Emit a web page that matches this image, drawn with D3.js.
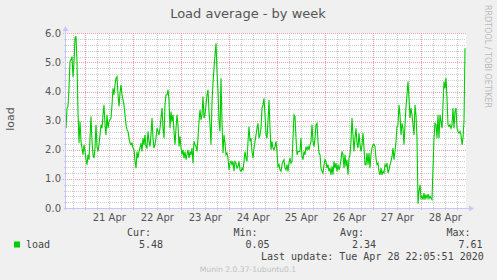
<!DOCTYPE html>
<html>
<head>
<meta charset="utf-8">
<script src="https://cdn.jsdelivr.net/npm/d3@7"></script>
<style>
  body { margin: 0; background: #F0F0F0; }
  svg { display: block; }
</style>
</head>
<body>
<div id="chartDiv"></div>
<script>
// load average, one value per 30 minutes, oldest first
var loadValues = [
  2.74, 3.43, 3.49, 4.11, 5.03, 5.09, 5.2, 4.5, 5.0, 5.83,
  5.9, 5.0, 3.3, 2.23, 2.97, 2.29, 2.06, 1.83, 2.17, 1.94,
  1.66, 1.49, 1.83, 1.66, 2.4, 3.14, 2.29, 1.83, 1.71, 2.06,
  2.86, 2.11, 1.94, 2.17, 2.51, 2.86, 2.74, 3.2, 3.54, 2.86,
  2.51, 3.2, 2.74, 2.97, 3.03, 3.09, 3.54, 4.11, 3.89, 4.23,
  4.46, 4.51, 3.89, 3.49, 3.94, 4.23, 3.89, 3.71, 3.54, 3.2,
  2.86, 2.69, 2.63, 2.4, 2.23, 2.17, 2.23, 2.06, 2.0, 1.6,
  1.37, 1.94, 1.71, 1.94, 2.06, 2.23, 1.94, 2.4, 2.17, 2.51,
  2.11, 2.06, 2.63, 2.29, 2.11, 2.51, 3.09, 2.4, 2.06, 2.17,
  2.4, 2.74, 2.63, 2.51, 2.74, 3.09, 3.43, 2.74, 2.4, 3.54,
  3.89,
  3.89, 4.06, 3.71, 2.74, 3.31, 2.97, 3.2, 2.63, 2.17, 2.74,
  3.2, 2.86, 2.11, 2.46, 2.06, 1.83, 2.0, 1.71, 1.94, 1.66,
  1.83, 2.0, 1.71, 1.94, 1.83, 2.06, 1.54, 2.29, 2.17, 2.11,
  1.94, 2.4, 2.97, 3.37, 3.03, 3.2, 3.83, 3.09, 3.2,
  3.54, 3.89, 4.06, 3.31, 2.86, 2.17, 3.66, 4.29, 4.8, 5.26,
  5.66, 4.69, 4.0, 2.97, 2.63, 4.46, 2.97, 1.89, 2.51, 2.23,
  1.83, 1.89, 1.71, 1.31, 1.54, 1.6, 1.49, 1.6, 1.26, 1.6,
  1.54, 1.37, 1.43, 1.6, 1.31, 1.26, 1.37, 1.31, 1.6, 1.94,
  1.71, 1.6, 2.29, 2.8, 2.29, 2.4, 1.94, 1.71, 2.06, 2.29,
  2.51, 2.74, 2.91, 2.4, 2.51, 2.74, 3.43, 3.54, 3.77, 3.2, 2.51,
  2.4, 2.97, 3.71, 2.74, 2.0, 2.29, 2.06, 2.0, 2.11, 2.29,
  1.94, 1.43, 1.49, 1.31, 1.26, 1.49, 1.6, 1.66, 1.37, 1.31,
  1.49, 1.26, 1.54, 1.71, 1.54, 1.6, 2.4, 3.2, 3.14, 2.4,
  1.83, 1.94, 1.94, 1.94, 2.4, 1.77, 1.66, 1.94, 1.83, 2.11,
  2.0, 2.11, 2.0, 2.17, 2.29, 2.86, 2.29, 2.11, 2.4, 2.86,
  2.91, 2.29, 1.89, 1.83, 1.37, 1.26, 1.2, 1.49, 1.66, 1.6,
  1.37, 1.49, 1.26, 1.37, 1.14, 1.43, 1.14, 1.6, 1.37, 1.54,
  1.26, 1.49, 1.31, 1.43, 1.66, 1.94, 1.83, 1.37, 1.83, 1.43,
  1.66, 1.14, 1.71, 1.83, 2.29, 3.09, 2.51, 1.94, 2.4, 2.74,
  2.23, 2.06, 2.57, 2.17, 1.94, 2.17, 2.57, 2.06, 1.49, 1.49,
  1.89, 1.49, 1.89, 1.37, 1.83, 2.06, 2.17, 2.19, 2.11, 1.71,
  1.49, 1.54, 1.26, 1.14, 1.37, 1.14, 1.26, 1.2, 1.49, 1.43,
  1.54, 1.2, 1.31, 1.49, 1.6, 1.77, 2.06, 1.66, 1.94, 2.29,
  2.8, 2.86, 3.54, 3.2, 2.51, 2.91, 2.74, 2.17, 2.86, 3.49,
  3.89, 4.34, 3.77, 3.09, 3.43, 3.2, 2.86, 2.51, 3.54, 3.2,
  2.4, 0.15, 0.57, 0.8, 0.34, 0.4, 0.29, 0.51, 0.29, 0.46,
  0.34, 0.48, 0.32, 0.4, 0.34, 0.29, 1.37, 2.4, 2.91, 2.86,
  2.4, 3.2, 2.4, 3.2, 2.97, 2.74, 3.54, 4.34, 4.11, 4.46,
  3.77, 2.86, 2.8, 2.86, 2.74, 2.86, 3.43, 2.74, 3.31, 3.43,
  2.74, 2.63, 2.57, 2.63, 2.51, 2.17, 2.4, 2.97, 5.49
];

var yTicks = [0, 1, 2, 3, 4, 5, 6];
var dayLabels = ["21 Apr", "22 Apr", "23 Apr", "24 Apr", "25 Apr", "26 Apr", "27 Apr", "28 Apr"];
var dayDates = [21, 22, 23, 24, 25, 26, 27, 28];

var legendHeads = ["Cur:", "Min:", "Avg:", "Max:"];
var legendValues = ["5.48", "0.05", "2.34", "7.61"];

var startTime = Date.UTC(2020, 3, 20, 14, 20);
var endTime = Date.UTC(2020, 3, 28, 22, 20);
var step = 30 * 60 * 1000;

var W = 497, H = 280;
var plotL = 66, plotR = 466, plotT = 33.3, plotB = 208;

var svg = d3.select("#chartDiv")
  .append("svg")
    .attr("width", W)
    .attr("height", H);

svg.append("rect")
  .attr("width", W).attr("height", H)
  .attr("fill", "#F0F0F0");

var x = d3.scaleUtc()
  .domain([startTime, endTime])
  .range([plotL, plotR]);

var y = d3.scaleLinear()
  .domain([0, 6])
  .range([plotB, plotT]);

// plot canvas
svg.append("rect")
  .attr("x", plotL).attr("y", 33)
  .attr("width", plotR - plotL).attr("height", plotB - 33)
  .attr("fill", "#FFFFFF");

function px(v) { return Math.round(v) + 0.5; }

// minor grid: every 6 hours and every 0.2
var minorTimes = d3.utcHour.every(6).range(new Date(startTime), new Date(endTime))
  .filter(function(d) { return d.getUTCHours() != 0; });
var majorTimes = d3.utcDay.range(new Date(startTime), new Date(endTime));
var minorY = d3.range(1, 30).map(function(i) { return i / 5; })
  .filter(function(v) { return Math.abs(v - Math.round(v)) > 0.01; });

var grid = svg.append("g");

grid.selectAll(".vminor")
  .data(minorTimes)
  .enter().append("line")
    .attr("x1", function(d) { return px(x(d)); })
    .attr("x2", function(d) { return px(x(d)); })
    .attr("y1", 33).attr("y2", plotB + 2)
    .attr("stroke", "#CCCCCC")
    .attr("stroke-dasharray", "1,1");

grid.selectAll(".hminor")
  .data(minorY)
  .enter().append("line")
    .attr("x1", plotL - 2).attr("x2", plotR)
    .attr("y1", function(d) { return px(y(d)); })
    .attr("y2", function(d) { return px(y(d)); })
    .attr("stroke", "#CCCCCC")
    .attr("stroke-dasharray", "1,1");

grid.selectAll(".vmajor")
  .data(majorTimes)
  .enter().append("line")
    .attr("x1", function(d) { return px(x(d)); })
    .attr("x2", function(d) { return px(x(d)); })
    .attr("y1", 33).attr("y2", plotB + 3)
    .attr("stroke", "#EDA0A0")
    .attr("stroke-dasharray", "1,1");

grid.selectAll(".hmajor")
  .data(yTicks.slice(1))
  .enter().append("line")
    .attr("x1", plotL - 3).attr("x2", plotR)
    .attr("y1", function(d) { return px(y(d)); })
    .attr("y2", function(d) { return px(y(d)); })
    .attr("stroke", "#EDA0A0")
    .attr("stroke-dasharray", "1,1");

// y tick labels
svg.selectAll(".ylab")
  .data(yTicks)
  .enter().append("text")
    .attr("x", 61)
    .attr("y", function(d) { return y(d) + 3.5; })
    .attr("text-anchor", "end")
    .style("font-family", "DejaVu Sans")
    .style("font-size", "10px")
    .style("fill", "#555")
    .text(function(d) { return d.toFixed(1); });

// x tick labels at noon
svg.selectAll(".xlab")
  .data(dayDates)
  .enter().append("text")
    .attr("x", function(d) { return x(Date.UTC(2020, 3, d, 12)); })
    .attr("y", 221)
    .attr("text-anchor", "middle")
    .style("font-family", "DejaVu Sans")
    .style("font-size", "10px")
    .style("fill", "#555")
    .text(function(d, i) { return dayLabels[i]; });

// the load line
svg.append("clipPath").attr("id", "plotClip")
  .append("rect")
    .attr("x", plotL).attr("y", 30)
    .attr("width", plotR - plotL).attr("height", plotB - 30);

var line = d3.line()
  .x(function(d, i) { return x(endTime - (loadValues.length - i) * step); })
  .y(function(d) { return y(d); });

svg.append("path")
  .datum(loadValues)
  .attr("clip-path", "url(#plotClip)")
  .attr("d", line)
  .attr("fill", "none")
  .attr("stroke", "#00CC00")
  .attr("stroke-width", 1.1);

// axes with arrows
var axisColor = "#C8C8F8";
var ax = px(plotB), ay = px(plotL - 1);
svg.append("line")
  .attr("x1", plotL - 2).attr("x2", plotR + 4)
  .attr("y1", ax).attr("y2", ax)
  .attr("stroke", axisColor);
svg.append("path")
  .attr("d", "M" + (plotR + 3) + "," + (ax - 3) + "L" + (plotR + 8) + "," + ax + "L" + (plotR + 3) + "," + (ax + 3) + "Z")
  .attr("fill", axisColor);
svg.append("line")
  .attr("x1", ay).attr("x2", ay)
  .attr("y1", plotB + 2).attr("y2", 30)
  .attr("stroke", axisColor);
svg.append("path")
  .attr("d", "M" + (ay - 3) + ",31L" + ay + ",26L" + (ay + 3) + ",31Z")
  .attr("fill", axisColor);

// title and labels
svg.append("text")
  .attr("x", 248).attr("y", 18.3)
  .attr("text-anchor", "middle")
  .style("font-family", "DejaVu Sans")
  .style("font-size", "13px")
  .style("fill", "#555")
  .text("Load average - by week");

svg.append("text")
  .attr("transform", "translate(14,119) rotate(-90)")
  .attr("text-anchor", "middle")
  .style("font-family", "DejaVu Sans")
  .style("font-size", "11px")
  .style("fill", "#555")
  .text("load");

svg.append("text")
  .attr("transform", "translate(485,5) rotate(90)")
  .style("font-family", "DejaVu Sans")
  .style("font-size", "8px")
  .style("fill", "#BBBBBB")
  .text("RRDTOOL / TOBI OETIKER");

// legend
svg.append("rect")
  .attr("x", 14).attr("y", 241.5)
  .attr("width", 6).attr("height", 6)
  .attr("fill", "#00CC00");

svg.append("text")
  .attr("x", 26).attr("y", 247.5)
  .style("font-family", "DejaVu Sans Mono")
  .style("font-size", "10px")
  .style("fill", "#444")
  .text("load");

var colX = [127, 233.5, 340, 446.5];

svg.selectAll(".lhead")
  .data(legendHeads)
  .enter().append("text")
    .attr("x", function(d, i) { return colX[i]; })
    .attr("y", 236)
    .style("font-family", "DejaVu Sans Mono")
    .style("font-size", "10px")
    .style("fill", "#444")
    .text(function(d) { return d; });

svg.selectAll(".lval")
  .data(legendValues)
  .enter().append("text")
    .attr("x", function(d, i) { return colX[i] + 12; })
    .attr("y", 247.5)
    .style("font-family", "DejaVu Sans Mono")
    .style("font-size", "10px")
    .style("fill", "#444")
    .text(function(d) { return d; });

svg.append("text")
  .attr("x", 261).attr("y", 259.5)
  .style("font-family", "DejaVu Sans Mono")
  .style("font-size", "10px")
  .style("fill", "#444")
  .text("Last update: Tue Apr 28 22:05:51 2020");

svg.append("text")
  .attr("x", 248).attr("y", 271.5)
  .attr("text-anchor", "middle")
  .style("font-family", "DejaVu Sans")
  .style("font-size", "7.6px")
  .style("fill", "#C0C0C0")
  .text("Munin 2.0.37-1ubuntu0.1");
</script>
</body>
</html>
